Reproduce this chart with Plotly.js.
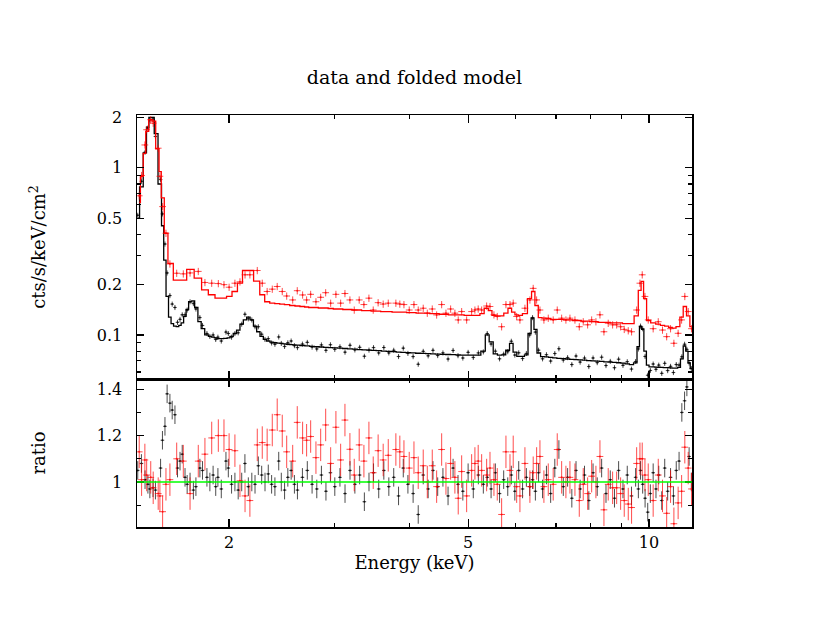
<!DOCTYPE html>
<html>
<head>
<meta charset="utf-8">
<script src="https://cdn.plot.ly/plotly-3.0.1.min.js"></script>
<style>
  html, body { margin: 0; padding: 0; background: #fff; }
  #plot { width: 830px; height: 642px; }
</style>
</head>
<body>
<div id="plot"></div>
<script>
// spectrum 1 (black) - energy bins (keV), counts, folded model, data/model ratio
var blackE = [
  1.41,1.43,1.45,1.466,1.477,1.495,1.509,1.539,1.55,1.565,
  1.578,1.595,1.609,1.626,1.642,1.658,1.672,1.69,1.704,1.723,
  1.745,1.762,1.789,1.807,1.838,1.859,1.882,1.901,1.917,1.942,
  1.977,1.995,2.02,2.046,2.072,2.10,2.126,2.154,2.183,2.21,
  2.238,2.267,2.296,2.325,2.355,2.385,2.42,2.444,2.475,2.506,
  2.538,2.57,2.60,2.65,2.70,2.75,2.80,2.85,2.90,2.95,
  3.00,3.06,3.12,3.18,3.24,3.30,3.36,3.42,3.48,3.55,
  3.62,3.69,3.76,3.83,3.90,3.97,4.05,4.13,4.21,4.29,
  4.37,4.45,4.54,4.63,4.72,4.81,4.90,5.00,5.10,5.20,
  5.30,5.38,5.46,5.55,5.64,5.73,5.82,5.90,5.98,6.07,
  6.16,6.25,6.33,6.40,6.47,6.55,6.65,6.75,6.86,6.97,
  7.08,7.20,7.32,7.44,7.56,7.68,7.81,7.94,8.07,8.20,
  8.34,8.48,8.62,8.76,8.90,9.05,9.20,9.35,9.50,9.60,
  9.68,9.76,9.85,9.95,10.05,10.16,10.27,10.38,10.50,10.62,
  10.74,10.86,10.98,11.10,11.22,11.34,11.46,11.56,11.66,11.76
];
var blackData = [
  0.52,0.83,1.24,1.73,1.94,1.95,1.54,0.85,0.53,0.35,
  0.235,0.172,0.153,0.146,0.119,0.124,0.132,0.132,0.141,0.158,
  0.154,0.143,0.127,0.114,0.102,0.098,0.100,0.094,0.097,0.092,
  0.104,0.102,0.097,0.102,0.103,0.116,0.133,0.125,0.123,0.112,
  0.112,0.101,0.094,0.095,0.0896,0.088,0.0973,0.089,0.0854,0.0898,
  0.092,0.0863,0.084,0.0882,0.0903,0.0846,0.0825,0.0872,0.0809,0.0874,
  0.082,0.085,0.0789,0.0867,0.0814,0.0843,0.0746,0.0812,0.084,0.0781,
  0.0841,0.0781,0.081,0.0743,0.0834,0.0776,0.0742,0.0668,0.0798,0.075,
  0.0809,0.0753,0.0781,0.0718,0.0808,0.0752,0.0728,0.0787,0.0734,0.0781,
  0.0792,0.102,0.0883,0.080,0.072,0.0768,0.0794,0.0917,0.0758,0.0782,
  0.0723,0.0775,0.100,0.127,0.104,0.0811,0.072,0.0762,0.0698,0.0774,
  0.0827,0.0708,0.0732,0.0665,0.0748,0.0688,0.0727,0.0647,0.0728,0.0683,
  0.0736,0.0656,0.0695,0.0637,0.0716,0.0658,0.0692,0.0625,0.0694,0.0825,
  0.113,0.109,0.0744,0.0574,0.0613,0.067,0.0623,0.066,0.0589,0.0676,
  0.0612,0.0649,0.0596,0.0665,0.066,0.074,0.088,0.082,0.068,0.063
];
var blackModel = [
  0.50,0.77,1.23,1.75,2.00,2.00,1.60,0.80,0.45,0.28,
  0.17,0.128,0.117,0.113,0.112,0.114,0.118,0.129,0.142,0.158,
  0.160,0.146,0.120,0.109,0.100,0.098,0.097,0.096,0.095,0.095,
  0.0955,0.096,0.098,0.102,0.107,0.116,0.123,0.128,0.123,0.113,
  0.1045,0.098,0.094,0.092,0.0905,0.0898,0.0893,0.089,0.0885,0.088,
  0.0876,0.0872,0.087,0.0865,0.086,0.0855,0.085,0.0847,0.0843,0.084,
  0.0837,0.0833,0.083,0.0826,0.0822,0.0818,0.0815,0.0812,0.0808,0.0805,
  0.0801,0.0797,0.0794,0.079,0.0787,0.0784,0.0781,0.0777,0.0775,0.0773,
  0.077,0.0768,0.0766,0.0764,0.0762,0.076,0.0758,0.0757,0.0757,0.0758,
  0.080,0.100,0.091,0.077,0.0758,0.076,0.081,0.089,0.079,0.0745,
  0.0745,0.076,0.102,0.126,0.108,0.078,0.0742,0.074,0.0735,0.073,
  0.0725,0.0722,0.0718,0.0715,0.0712,0.0709,0.0706,0.0703,0.070,0.0697,
  0.0694,0.0691,0.0688,0.0685,0.0682,0.0678,0.0672,0.0665,0.068,0.085,
  0.112,0.108,0.080,0.066,0.0645,0.0644,0.0642,0.0641,0.064,0.0638,
  0.0637,0.0636,0.0634,0.0633,0.064,0.072,0.086,0.080,0.068,0.063
];
var blackRatio = [
  1.05,1.08,1.01,0.99,0.97,0.975,0.965,1.06,1.18,1.24,
  1.38,1.34,1.31,1.29,1.06,1.09,1.12,1.02,0.99,1.0,
  0.965,0.98,1.06,1.05,1.02,1.0,1.03,0.98,1.02,0.97,
  1.09,1.06,0.99,1.0,0.965,1.0,1.08,0.98,1.0,0.99,
  1.07,1.03,1.0,1.035,0.99,0.98,1.09,1.0,0.965,1.02,
  1.05,0.99,0.965,1.02,1.05,0.99,0.97,1.03,0.96,1.04,
  0.98,1.02,0.95,1.05,0.99,1.03,0.915,1.0,1.04,0.97,
  1.05,0.98,1.02,0.94,1.06,0.99,0.95,0.86,1.03,0.97,
  1.05,0.98,1.02,0.94,1.06,0.99,0.96,1.04,0.97,1.03,
  0.99,1.02,0.97,1.04,0.95,1.01,0.98,1.03,0.96,1.05,
  0.97,1.02,0.98,1.01,0.96,1.04,0.97,1.03,0.95,1.06,
  1.14,0.98,1.02,0.93,1.05,0.97,1.03,0.92,1.04,0.98,
  1.06,0.95,1.01,0.93,1.05,0.97,1.03,0.94,1.02,0.97,
  1.05,0.99,0.93,0.87,0.95,1.04,0.97,1.03,0.92,1.06,
  0.96,1.02,0.94,1.05,1.09,1.30,1.35,1.41,1.11,1.0
];

// spectrum 2 (red)
var redE = [
  1.418,1.431,1.449,1.459,1.482,1.496,1.525,1.535,1.551,1.571,
  1.595,1.637,1.679,1.723,1.778,1.824,1.872,1.92,1.962,2.001,
  2.046,2.086,2.127,2.167,2.229,2.272,2.315,2.361,2.406,2.453,
  2.495,2.553,2.598,2.652,2.693,2.735,2.791,2.842,2.897,2.953,
  3.013,3.068,3.119,3.179,3.232,3.294,3.354,3.419,3.476,3.542,
  3.611,3.682,3.791,3.849,3.91,3.99,4.063,4.13,4.21,4.276,
  4.358,4.432,4.518,4.593,4.676,4.753,4.814,4.878,4.972,5.068,
  5.132,5.197,5.266,5.368,5.437,5.52,5.591,5.685,5.78,5.87,
  5.943,6.022,6.098,6.216,6.336,6.416,6.501,6.584,6.685,6.797,
  6.927,7.035,7.155,7.273,7.386,7.529,7.655,7.772,7.904,8.027,
  8.159,8.286,8.414,8.553,8.698,8.834,8.969,9.094,9.235,9.354,
  9.537,9.658,9.743,9.845,9.97,10.16,10.36,10.53,10.70,10.86,
  11.0,11.18,11.33,11.47,11.62,11.77
];
var redData = [
  0.68,0.90,1.37,1.69,1.94,1.85,1.31,0.89,0.586,0.406,
  0.266,0.234,0.232,0.235,0.24,0.206,0.204,0.203,0.20,0.193,
  0.204,0.208,0.229,0.229,0.243,0.204,0.182,0.188,0.195,0.182,
  0.171,0.162,0.184,0.1735,0.162,0.175,0.158,0.168,0.179,0.155,
  0.175,0.155,0.177,0.162,0.141,0.162,0.152,0.166,0.141,0.156,
  0.153,0.155,0.155,0.153,0.152,0.141,0.152,0.141,0.1445,0.135,
  0.143,0.1318,0.152,0.135,0.143,0.135,0.123,0.138,0.123,0.138,
  0.141,0.143,0.141,0.149,0.148,0.132,0.129,0.112,0.152,0.152,
  0.155,0.129,0.123,0.1445,0.162,0.19,0.162,0.141,0.123,0.126,
  0.123,0.141,0.126,0.123,0.126,0.123,0.112,0.12,0.115,0.123,
  0.12,0.132,0.1045,0.1175,0.115,0.115,0.112,0.108,0.106,0.1045,
  0.141,0.204,0.229,0.17,0.123,0.109,0.12,0.107,0.0977,0.109,
  0.0892,0.1023,0.123,0.170,0.138,0.109
];
var redModel = [
  0.62,0.89,1.22,1.65,1.94,1.90,1.30,0.95,0.66,0.406,
  0.268,0.213,0.213,0.247,0.219,0.186,0.174,0.166,0.166,0.170,
  0.182,0.204,0.243,0.243,0.210,0.174,0.158,0.155,0.154,0.153,
  0.152,0.150,0.149,0.148,0.147,0.146,0.146,0.145,0.145,0.144,
  0.143,0.143,0.142,0.142,0.141,0.141,0.140,0.140,0.139,0.139,
  0.138,0.138,0.137,0.137,0.137,0.136,0.136,0.135,0.135,0.135,
  0.134,0.134,0.133,0.133,0.132,0.132,0.132,0.132,0.131,0.131,
  0.131,0.131,0.134,0.1445,0.140,0.131,0.130,0.130,0.135,0.1445,
  0.137,0.132,0.131,0.134,0.165,0.182,0.150,0.127,0.126,0.125,
  0.124,0.124,0.124,0.123,0.123,0.122,0.122,0.121,0.121,0.120,
  0.120,0.119,0.119,0.119,0.118,0.118,0.118,0.117,0.117,0.117,
  0.130,0.185,0.209,0.165,0.122,0.118,0.116,0.114,0.113,0.111,
  0.110,0.112,0.128,0.148,0.130,0.112
];
var redRatio = [
  1.13,1.01,1.095,1.03,1.02,0.975,0.95,0.94,0.872,0.99,
  1.01,1.10,1.09,0.95,1.09,1.12,1.19,1.20,1.20,1.14,
  1.135,1.005,0.94,0.92,1.16,1.17,1.16,1.224,1.29,1.22,
  1.13,1.09,1.257,1.19,1.18,1.196,1.105,1.16,1.246,1.08,
  1.236,1.095,1.267,1.141,1.03,1.16,1.09,1.19,1.04,1.135,
  1.095,1.115,1.14,1.13,1.11,1.06,1.105,1.04,1.07,1.0,
  1.07,0.98,1.14,1.015,1.08,1.02,0.93,1.045,0.94,1.05,
  1.08,1.09,1.05,1.03,1.06,1.01,0.99,0.86,1.13,1.05,
  1.13,0.98,0.94,1.08,0.98,1.04,1.08,1.11,0.98,1.01,
  0.99,1.14,1.02,1.0,1.02,1.01,0.92,0.99,0.95,1.025,
  1.0,1.11,0.88,0.99,0.975,0.975,0.95,0.92,0.905,0.89,
  1.08,1.10,1.10,1.03,1.01,0.92,1.03,0.94,0.865,0.98,
  0.82,0.91,0.96,1.15,1.06,0.97
];

var unityLevel = 1;
var energyTicks = [2, 5, 10];
var energyMinor = [3, 4, 6, 7, 8, 9];
var fluxTicks = [0.1, 0.2, 0.5, 1, 2];
var fluxTickText = ["0.1", "0.2", "0.5", "1", "2"];
var fluxMinor = [0.06, 0.07, 0.08, 0.09, 0.3, 0.4, 0.6, 0.7, 0.8, 0.9];
var ratioTicks = [1, 1.2, 1.4];
var ratioTickText = ["1", "1.2", "1.4"];
var ratioMinor = [0.9, 1.1, 1.3];

var BLACK = "rgba(0,0,0,0.7)";
var RED = "rgba(255,0,0,0.7)";

function dataTrace(x, y, col, xa, ya, ex, ey) {
  return {
    x: x, y: y, xaxis: xa, yaxis: ya, type: "scatter", mode: "markers",
    marker: {size: 2, color: col},
    error_x: {type: "percent", value: ex, color: col, thickness: 1, width: 0},
    error_y: ey,
    showlegend: false, hoverinfo: "skip"
  };
}

var traces = [
  dataTrace(blackE, blackData, BLACK, "x2", "y", 0.7,
    {type: "percent", value: 3.5, color: BLACK, thickness: 1, width: 0}),
  {x: blackE, y: blackModel, xaxis: "x2", yaxis: "y", mode: "lines",
   line: {color: "#000", width: 1.3, shape: "hvh"}, showlegend: false},
  dataTrace(redE, redData, RED, "x2", "y", 1.3,
    {type: "percent", value: 5, color: RED, thickness: 1, width: 0}),
  {x: redE, y: redModel, xaxis: "x2", yaxis: "y", mode: "lines",
   line: {color: "#ff0000", width: 1.3, shape: "hvh"}, showlegend: false},
  dataTrace(blackE, blackRatio, BLACK, "x", "y2", 0.7,
    {type: "constant", value: 0.04, color: BLACK, thickness: 1, width: 0}),
  dataTrace(redE, redRatio, RED, "x", "y2", 1.3,
    {type: "constant", value: 0.07, color: RED, thickness: 1, width: 0})
];

var tickFont = {family: "DejaVu Serif", size: 16, color: "#000"};
var titleFont = {family: "DejaVu Serif", size: 18, color: "#000"};
var eRange = [Math.log10(1.406), Math.log10(11.79)];

var commonAxis = {
  showline: true, linecolor: "#000", linewidth: 1.5, mirror: "ticks",
  ticks: "inside", tickcolor: "#000", tickwidth: 1.2, showgrid: false, zeroline: false,
  tickfont: tickFont
};

var layout = {
  width: 830, height: 642,
  margin: {l: 137, r: 138, t: 115, b: 115},
  paper_bgcolor: "#fff", plot_bgcolor: "#fff",
  font: tickFont,
  title: {text: "data and folded model", x: 0.5, xref: "paper", y: 0.88, yanchor: "middle",
          font: {family: "DejaVu Serif", size: 19, color: "#000"}},
  xaxis: Object.assign({}, commonAxis, {
    type: "log", range: eRange, anchor: "y2", domain: [0, 1],
    tickmode: "array", tickvals: energyTicks, ticklen: 8, ticklabelstandoff: 0,
    minor: {tickmode: "array", tickvals: energyMinor, ticks: "inside", ticklen: 4, tickcolor: "#000"},
    title: {text: "Energy (keV)", font: titleFont, standoff: 4}
  }),
  xaxis2: Object.assign({}, commonAxis, {
    type: "log", range: eRange, anchor: "y", matches: "x", showticklabels: false,
    tickmode: "array", tickvals: energyTicks, ticklen: 8,
    minor: {tickmode: "array", tickvals: energyMinor, ticks: "inside", ticklen: 4, tickcolor: "#000"}
  }),
  yaxis: Object.assign({}, commonAxis, {
    type: "log", range: [Math.log10(0.0545), Math.log10(2.07)], anchor: "x2", domain: [0.3592, 1],
    tickmode: "array", tickvals: fluxTicks, ticktext: fluxTickText, ticklen: 7, ticklabelstandoff: 10,
    minor: {tickmode: "array", tickvals: fluxMinor, ticks: "inside", ticklen: 4, tickcolor: "#000"},
    title: {text: "cts/s/keV/cm<sup>2</sup>", font: titleFont, standoff: 46}
  }),
  yaxis2: Object.assign({}, commonAxis, {
    range: [0.806, 1.444], anchor: "x", domain: [0, 0.3592],
    tickmode: "array", tickvals: ratioTicks, ticktext: ratioTickText, ticklen: 7, ticklabelstandoff: 10,
    minor: {tickmode: "array", tickvals: ratioMinor, ticks: "inside", ticklen: 4, tickcolor: "#000"},
    title: {text: "ratio", font: titleFont, standoff: 46}
  }),
  shapes: [{
    type: "line", xref: "x domain", x0: 0, x1: 1, yref: "y2", y0: unityLevel, y1: unityLevel,
    line: {color: "#00ff00", width: 1.5}, layer: "above"
  }]
};

Plotly.newPlot("plot", traces, layout, {staticPlot: true, displayModeBar: false});
</script>
</body>
</html>
